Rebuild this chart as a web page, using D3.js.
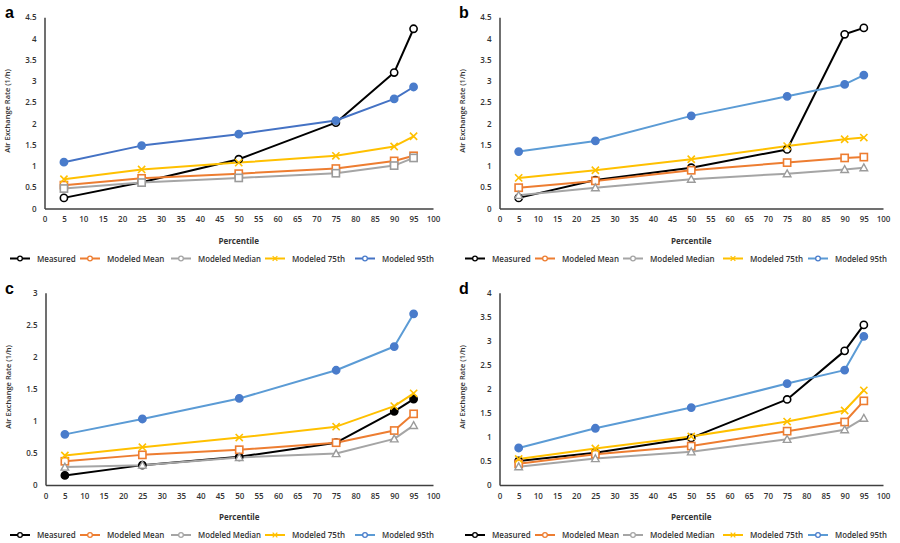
<!DOCTYPE html>
<html><head><meta charset="utf-8">
<script src="https://cdn.jsdelivr.net/npm/d3@7/dist/d3.min.js"></script>
<style>body{margin:0;background:#fff}svg{display:block}</style>
</head><body>
<svg id="chart" width="900" height="543"></svg>
<script>
// ---------- data ----------
const percentiles = [5, 25, 50, 75, 90, 95];
const xTicks = [0,5,10,15,20,25,30,35,40,45,50,55,60,65,70,75,80,85,90,95,100];
const seriesNames = ["Measured", "Modeled Mean", "Modeled Median", "Modeled 75th", "Modeled 95th"];
const panelLabels = ["a", "b", "c", "d"];
const yMaxes = [4.5, 4.5, 3, 4];
const xTitle = "Percentile";
const yTitle = "Air Exchange Rate (1/h)";

// panel a
const aMeasured = [0.25, 0.62, 1.16, 2.02, 3.20, 4.23];
const aMean     = [0.55, 0.71, 0.82, 0.94, 1.12, 1.24];
const aMedian   = [0.47, 0.61, 0.72, 0.83, 1.01, 1.19];
const a75th     = [0.69, 0.92, 1.08, 1.24, 1.46, 1.70];
const a95th     = [1.09, 1.48, 1.75, 2.07, 2.58, 2.86];
// panel b
const bMeasured = [0.25, 0.67, 0.96, 1.39, 4.10, 4.25];
const bMean     = [0.49, 0.65, 0.90, 1.08, 1.19, 1.21];
const bMedian   = [0.31, 0.49, 0.69, 0.82, 0.92, 0.96];
const b75th     = [0.72, 0.90, 1.16, 1.47, 1.63, 1.67];
const b95th     = [1.34, 1.59, 2.18, 2.64, 2.92, 3.14];
// panel c
const cMeasured = [0.15, 0.31, 0.44, 0.66, 1.15, 1.34];
const cMean     = [0.37, 0.47, 0.55, 0.66, 0.85, 1.11];
const cMedian   = [0.28, 0.31, 0.43, 0.49, 0.72, 0.93];
const c75th     = [0.46, 0.59, 0.74, 0.91, 1.23, 1.43];
const c95th     = [0.79, 1.03, 1.35, 1.79, 2.16, 2.67];
// panel d
const dMeasured = [0.50, 0.67, 0.98, 1.78, 2.79, 3.33];
const dMean     = [0.44, 0.64, 0.81, 1.12, 1.31, 1.75];
const dMedian   = [0.38, 0.55, 0.69, 0.95, 1.15, 1.39];
const d75th     = [0.54, 0.76, 1.01, 1.32, 1.55, 1.97];
const d95th     = [0.77, 1.18, 1.61, 2.11, 2.39, 3.09];

const panelValues = [
  [aMeasured, aMean, aMedian, a75th, a95th],
  [bMeasured, bMean, bMedian, b75th, b95th],
  [cMeasured, cMean, cMedian, c75th, c95th],
  [dMeasured, dMean, dMedian, d75th, d95th]
];

// ---------- layout / style ----------
const layouts = [
  {x0: 44.5, x1: 433, yB: 208.5, yT: 17.3, lx: 10, lgap: [0, 70, 161, 255, 345]},
  {x0: 499.5, x1: 883, yB: 208.5, yT: 17.3, lx: 465, lgap: [0, 70, 158, 258, 343]},
  {x0: 45.5, x1: 433, yB: 485, yT: 292.7, lx: 10, lgap: [0, 70, 161, 255, 345]},
  {x0: 499.5, x1: 883, yB: 485, yT: 292.7, lx: 465, lgap: [0, 70, 158, 258, 343]}
];
const colors = ["#000000", "#ED7D31", "#A5A5A5", "#FFC000", "#5B9BD5"];
const font = "'Open Sans', 'Liberation Sans', sans-serif";
const textColor = "#333";

const svg = d3.select("#chart");

function drawMarker(g, type, color, x, y, s, filled) {
  const k = s;
  const sw = 1.6 * Math.max(k, 0.8);
  if (type === "circle") {
    g.append("circle").attr("cx", x).attr("cy", y).attr("r", 3.6 * k)
      .attr("fill", filled ? color : "#fff").attr("stroke", color).attr("stroke-width", sw);
  } else if (type === "square") {
    const h = 3.6 * k;
    g.append("rect").attr("x", x - h).attr("y", y - h).attr("width", 2 * h).attr("height", 2 * h)
      .attr("fill", "#fff").attr("stroke", color).attr("stroke-width", sw);
  } else if (type === "triangle") {
    const h = 3.8 * k;
    g.append("path").attr("d", `M${x},${y - h}L${x + h},${y + h * 0.8}L${x - h},${y + h * 0.8}Z`)
      .attr("fill", "#fff").attr("stroke", color).attr("stroke-width", 1.4 * Math.max(k, 0.8));
  } else if (type === "x") {
    const h = 3.6 * k;
    g.append("path").attr("d", `M${x - h},${y - h}L${x + h},${y + h}M${x - h},${y + h}L${x + h},${y - h}`)
      .attr("stroke", color).attr("stroke-width", sw).attr("fill", "none");
  }
}

panelValues.forEach((vals, pi) => {
  const L = layouts[pi];
  const g = svg.append("g");
  const x = d3.scaleLinear().domain([0, 100]).range([L.x0, L.x1]);
  const y = d3.scaleLinear().domain([0, yMaxes[pi]]).range([L.yB, L.yT]);
  const yTicks = d3.range(0, yMaxes[pi] + 0.001, 0.5);

  // axes
  const yAxis = g.append("g").attr("transform", `translate(${L.x0},0)`)
    .call(d3.axisLeft(y).tickValues(yTicks).tickSize(0).tickPadding(8).tickFormat(d => String(+d.toFixed(1))));
  yAxis.select(".domain").attr("stroke", "#404040").attr("stroke-width", 1.5);
  yAxis.selectAll("text").attr("font-family", font).attr("font-size", 8).attr("font-weight", 600).attr("fill", textColor);

  const xAxis = g.append("g").attr("transform", `translate(0,${L.yB})`)
    .call(d3.axisBottom(x).tickValues(xTicks).tickSize(0).tickPadding(8).tickFormat(d3.format("d")));
  xAxis.select(".domain").attr("stroke", "#404040").attr("stroke-width", 1.5);
  xAxis.selectAll("text").attr("font-family", font).attr("font-size", 8).attr("font-weight", 600).attr("fill", textColor);

  // titles
  g.append("text").attr("x", (L.x0 + L.x1) / 2).attr("y", L.yB + 35)
    .attr("text-anchor", "middle").attr("font-family", font).attr("font-size", 8)
    .attr("font-weight", 700).attr("fill", textColor).text(xTitle);
  g.append("text").attr("transform", `translate(${L.x0 - 35},${(L.yB + L.yT) / 2 - 2}) rotate(-90)`)
    .attr("text-anchor", "middle").attr("font-family", font).attr("font-size", 7.5)
    .attr("font-weight", 600).attr("fill", textColor).text(yTitle);
  g.append("text").attr("x", L.lx - 5 + (pi % 2 === 0 ? 0 : -1)).attr("y", L.yT + 1)
    .attr("font-family", "'Liberation Sans', Arial, sans-serif").attr("font-size", 16)
    .attr("font-weight", 700).attr("fill", "#000").text(panelLabels[pi]);

  // series
  const markerTypes = ["circle", "square", pi === 0 ? "square" : "triangle", "x", "circle"];
  const line = d3.line().x((d, i) => x(percentiles[i])).y(d => y(d));
  vals.forEach((sv, si) => {
    let lineColor = colors[si];
    if (si === 4) lineColor = pi === 0 ? "#4472C4" : "#5B9BD5";
    g.append("path").datum(sv).attr("d", line).attr("fill", "none")
      .attr("stroke", lineColor).attr("stroke-width", 2).attr("stroke-linejoin", "round");
  });
  vals.forEach((sv, si) => {
    let markColor = colors[si];
    if (si === 4) markColor = "#4A7CCB";
    if (si === 2) markColor = "#9B9B9B";
    const filled = si === 4 || (si === 0 && pi === 2);
    sv.forEach((v, i) => drawMarker(g, markerTypes[si], markColor, x(percentiles[i]), y(v), 1, filled));
  });

  // legend
  const ly = L.yB + 50;
  seriesNames.forEach((name, si) => {
    const cx = L.lx + L.lgap[si];
    let lc = colors[si];
    if (si === 4) lc = pi === 0 ? "#4472C4" : "#5B9BD5";
    g.append("line").attr("x1", cx).attr("x2", cx + 20).attr("y1", ly).attr("y2", ly)
      .attr("stroke", lc).attr("stroke-width", 2);
    const lt = si === 3 ? "x" : "circle";
    drawMarker(g, lt, si === 4 ? "#4A7CCB" : colors[si], cx + 10, ly, 0.65, false);
    const t = g.append("text").attr("x", cx + 27).attr("y", ly + 3)
      .attr("font-family", font).attr("font-size", 8).attr("font-weight", 600)
      .attr("fill", textColor).text(name);
    const maxW = (si < 4 ? L.lgap[si + 1] - L.lgap[si] : 83) - 31;
    if (t.node().getComputedTextLength() > maxW) {
      t.attr("textLength", maxW).attr("lengthAdjust", "spacingAndGlyphs");
    }
  });
});
</script>
</body></html>
